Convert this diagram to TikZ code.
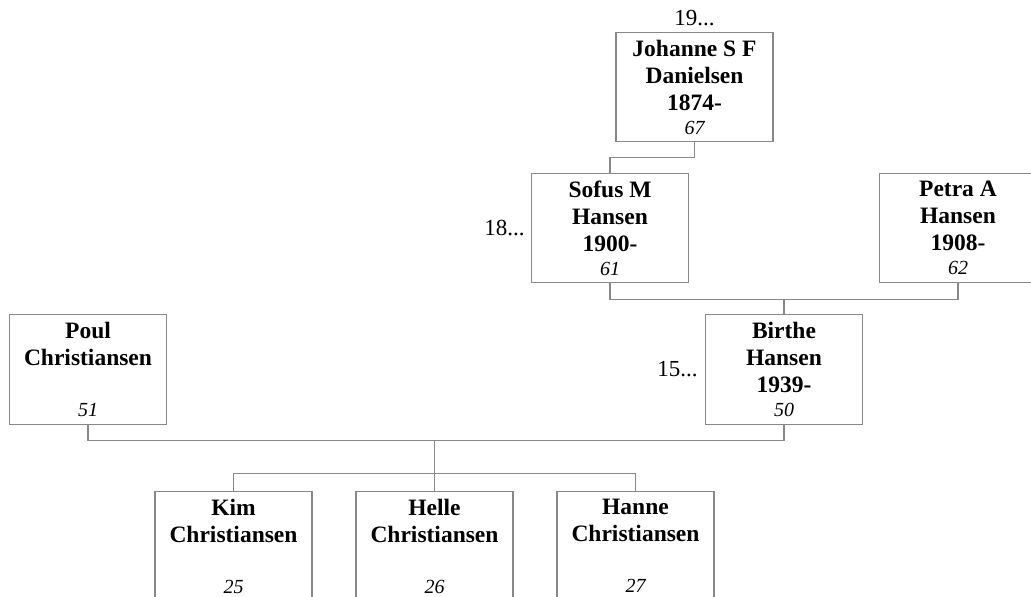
\documentclass[tikz,border=0pt]{standalone}
\usepackage{fontspec}
\setmainfont{Liberation Serif}
\usetikzlibrary{positioning}
\usepackage{xcolor}
\definecolor{boxgray}{RGB}{136,136,136}
\newcommand{\agenum}[1]{{\mdseries\itshape\fontsize{20}{24}\selectfont #1}}

\begin{document}
\begin{tikzpicture}[x=1pt, y=-1pt,
    person/.style={
        rectangle,
        draw=boxgray,
        line width=1.2pt,
        minimum width=157pt,
        minimum height=109.5pt,
        inner sep=0pt,
        align=center,
        fill=white,
        font=\bfseries\fontsize{23.5}{27}\selectfont
    },
    more/.style={font=\fontsize{23}{27}\selectfont, inner sep=3pt},
    link/.style={draw=boxgray, line width=1.2pt}
]

    \clip (0,0) rectangle (1031,597);



    \node (johanne_danielsen) [person, shift={(694.5, 87)}]
    {
        Johanne S F\\Danielsen\\1874-\\[-3pt]\agenum{67}
    };

    \node (sofus_hansen) [person, shift={(610, 228)}]
    {
        Sofus M\\Hansen\\1900-\\[-3pt]\agenum{61}
    };

    \node (petra_hansen) [person, shift={(958, 228)}]
    {
        Petra A\\Hansen\\1908-\\[-3pt]\agenum{62}
    };

    \node (birthe_hansen) [person, shift={(784, 369.5)}]
    {
        Birthe\\Hansen\\1939-\\[-3pt]\agenum{50}
    };

    \node (poul_christiansen) [person, shift={(88, 369.5)}]
    {
        Poul\\Christiansen\\\mbox{}\\[-3pt]\agenum{51}
    };



    \node (kim_christiansen) [person, shift={(233.5, 546)}]
    {
        Kim\\Christiansen\\\mbox{}\\[-3pt]\agenum{25}
    };

    \node (helle_christiansen) [person, shift={(434.5, 546)}]
    {
        Helle\\Christiansen\\\mbox{}\\[-3pt]\agenum{26}
    };

    \node (hanne_christiansen) [person, shift={(635.5, 546)}]
    {
        Hanne\\Christiansen\\\mbox{}\\[-3pt]\agenum{27}
    };


    \node (johanne_more) [more, above=2.5pt of johanne_danielsen] {19...};
    \node (sofus_more) [more, left=3pt of sofus_hansen] {18...};
    \node (birthe_more) [more, left=4pt of birthe_hansen] {15...};


    \draw[link] (johanne_danielsen.south) -- ++(0,15.5) -| (sofus_hansen.north);
    \draw[link] (sofus_hansen.south) -- ++(0,16) coordinate (sofus_petra) -| (petra_hansen.south);
    \draw[link] (birthe_hansen.north) -- (birthe_hansen.north |- sofus_petra);
    \draw[link] (poul_christiansen.south) -- ++(0,16) coordinate (poul_birthe) -| (birthe_hansen.south);
    \draw[link] (helle_christiansen.north) -- (helle_christiansen.north |- poul_birthe);
    \draw[link] (kim_christiansen.north) -- ++(0,-17) -| (hanne_christiansen.north);


\end{tikzpicture}
\end{document}
